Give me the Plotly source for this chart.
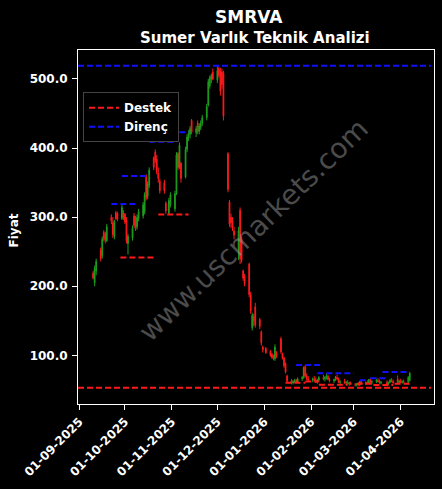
import pandas as pd
import plotly.graph_objects as go

# ---------------- data ----------------
holidays = ["2025-10-29", "2026-01-01", "2026-03-20"]
dates = [d for d in pd.bdate_range("2025-09-10", "2026-04-07") if d.strftime("%Y-%m-%d") not in holidays]

opens = [
    # Sep
    219, 205, 222, 252, 244, 278, 276, 266, 300, 292, 272, 306, 305, 298, 306,
    # Oct
    304, 296, 262, 270, 302, 298, 286, 298, 302, 308, 358, 330, 346, 386, 394, 384, 364, 352, 350, 320, 306, 318,
    # Nov
    312, 334, 392, 372, 378, 358, 398, 416, 420, 440, 422, 436, 424, 430, 436, 444, 462, 490, 500, 510,
    # Dec
    498, 515, 512, 510, 508, 392, 322, 300, 296, 280, 252, 310, 268, 222, 214, 232, 188, 140, 156, 170, 152, 134, 112,
    # Jan
    110, 106, 102, 99, 95, 104, 124, 102, 96, 88, 70, 64, 60, 62, 64, 61, 66, 68, 84, 70, 66,
    # Feb
    64, 66, 64, 62, 64, 68, 66, 68, 70, 65, 63, 65, 68, 66, 61, 62, 60, 61, 59, 60,
    # Mar
    58, 57, 59, 57, 62, 59, 61, 60, 65, 61, 62, 64, 62, 60, 61, 59, 61, 64, 62, 66, 61,
    # Apr
    63, 61, 62, 61, 64,
]
highs = [
    222, 230, 240, 256, 272, 281, 279, 290, 304, 300, 296, 309, 308, 318, 310,
    306, 300, 276, 288, 306, 302, 304, 312, 322, 336, 362, 352, 372, 388, 398, 390, 372, 356, 354, 323, 328, 336,
    338, 394, 394, 408, 380, 402, 420, 426, 432, 442, 432, 440, 436, 440, 448, 464, 500, 505, 508, 515,
    518, 518, 516, 515, 512, 394, 325, 305, 300, 286, 286, 314, 272, 224, 218, 234, 192, 162, 160, 176, 154, 136, 114,
    112, 108, 104, 101, 116, 106, 127, 104, 98, 90, 72, 66, 64, 66, 66, 68, 70, 84, 86, 74, 70,
    68, 70, 68, 66, 70, 72, 70, 74, 72, 68, 66, 70, 72, 68, 64, 66, 63, 64, 62, 62,
    60, 60, 61, 63, 64, 62, 64, 66, 67, 64, 66, 67, 65, 63, 64, 62, 66, 67, 65, 71, 64,
    66, 64, 65, 70, 76,
]
lows = [
    210, 200, 216, 236, 240, 265, 262, 264, 290, 270, 268, 296, 294, 296, 296,
    290, 262, 246, 266, 284, 280, 282, 294, 298, 304, 324, 326, 342, 368, 378, 362, 350, 334, 334, 305, 304, 314,
    308, 332, 368, 370, 350, 356, 394, 410, 414, 420, 416, 420, 420, 426, 432, 440, 460, 486, 494, 498,
    494, 502, 476, 486, 440, 336, 286, 284, 280, 268, 238, 232, 234, 208, 200, 184, 160, 136, 142, 140, 138, 114, 104,
    102, 98, 95, 93, 92, 96, 102, 94, 82, 74, 60, 58, 58, 60, 60, 60, 63, 66, 68, 64, 62,
    61, 63, 60, 59, 62, 64, 62, 65, 64, 61, 60, 63, 64, 60, 58, 59, 57, 58, 56, 57,
    55, 55, 56, 56, 58, 57, 59, 59, 60, 58, 60, 61, 59, 58, 58, 57, 60, 61, 59, 60, 59,
    60, 59, 60, 60, 62,
]
closes = [
    212, 226, 236, 240, 268, 268, 266, 286, 295, 275, 294, 298, 297, 314, 300,
    293, 266, 272, 284, 288, 284, 300, 308, 318, 332, 328, 348, 368, 372, 382, 366, 356, 338, 338, 309, 324, 332,
    334, 390, 372, 404, 356, 398, 416, 422, 428, 423, 428, 424, 432, 436, 444, 460, 496, 502, 505, 500,
    512, 505, 482, 492, 446, 340, 290, 292, 286, 274, 280, 240, 238, 212, 204, 188, 164, 158, 150, 144, 142, 118, 108,
    104, 100, 97, 95, 112, 98, 105, 96, 85, 76, 63, 60, 62, 63, 61, 66, 68, 82, 70, 66, 64,
    66, 64, 62, 64, 68, 66, 68, 70, 65, 63, 65, 68, 66, 61, 62, 60, 61, 59, 60, 58,
    57, 59, 57, 62, 59, 61, 60, 65, 61, 62, 64, 62, 60, 61, 59, 61, 64, 62, 60, 61, 63,
    61, 62, 61, 68, 74,
]

# main support / resistance levels
support_level = 53.2
resistance_level = 519.2
level_span = ["2025-08-31", "2026-04-21"]

# short local support segments: (start, end, value)
support_segments = [
    ("2025-09-28", "2025-10-21", 241.6),
    ("2025-10-23", "2025-11-12", 303.8),
    ("2026-01-15", "2026-01-28", 60.5),
    ("2026-01-28", "2026-02-06", 62.0),
    ("2026-02-06", "2026-02-25", 57.5),
    ("2026-03-03", "2026-03-13", 59.0),
    ("2026-03-14", "2026-03-27", 57.0),
    ("2026-03-28", "2026-04-08", 59.0),
]
# short local resistance segments
resistance_segments = [
    ("2025-09-22", "2025-10-09", 319.0),
    ("2025-09-29", "2025-10-17", 359.5),
    ("2025-10-17", "2025-11-04", 409.0),
    ("2025-10-25", "2025-11-12", 423.0),
    ("2026-01-22", "2026-02-09", 86.0),
    ("2026-02-05", "2026-03-01", 74.0),
    ("2026-03-05", "2026-03-11", 64.0),
    ("2026-03-12", "2026-03-23", 67.0),
    ("2026-03-20", "2026-04-07", 76.0),
]

y_ticks = [100, 200, 300, 400, 500]

# ---------------- figure ----------------
RED = "#ff1a1a"
GREEN = "#1e9e1e"
BLUE = "#1010ff"
FONT = "DejaVu Sans"

fig = go.Figure()

fig.add_trace(go.Candlestick(
    x=dates, open=opens, high=highs, low=lows, close=closes,
    increasing=dict(line=dict(color=GREEN, width=1), fillcolor=GREEN),
    decreasing=dict(line=dict(color=RED, width=1), fillcolor=RED),
    showlegend=False, hoverinfo="skip",
))

dash = "6px,3px"
for s, e, v in support_segments:
    fig.add_trace(go.Scatter(x=[s, e], y=[v, v], mode="lines",
                             line=dict(color=RED, width=2, dash=dash),
                             showlegend=False, hoverinfo="skip"))
for s, e, v in resistance_segments:
    fig.add_trace(go.Scatter(x=[s, e], y=[v, v], mode="lines",
                             line=dict(color=BLUE, width=2, dash=dash),
                             showlegend=False, hoverinfo="skip"))

fig.add_trace(go.Scatter(x=level_span, y=[support_level] * 2, mode="lines",
                         line=dict(color=RED, width=2, dash=dash), name="Destek"))
fig.add_trace(go.Scatter(x=level_span, y=[resistance_level] * 2, mode="lines",
                         line=dict(color=BLUE, width=2, dash=dash), name="Direnç"))

axis_common = dict(
    showline=True, linecolor="white", linewidth=1, mirror=True,
    showgrid=False, zeroline=False, ticks="outside", ticklen=5,
    tickcolor="white", tickfont=dict(family=FONT, size=12, color="white", weight="bold"),
    automargin=False,
)

fig.update_layout(
    width=442, height=489,
    paper_bgcolor="black", plot_bgcolor="black",
    margin=dict(l=78, r=8, t=50, b=85),
    font=dict(family=FONT, color="white"),
    xaxis=dict(
        axis_common, type="date", range=["2025-08-31", "2026-04-23"],
        tick0="2025-09-01", dtick="M1", tickformat="%d-%m-%Y", tickangle=-45,
        rangeslider=dict(visible=False),
    ),
    yaxis=dict(
        axis_common, range=[29.6, 541.9], tickvals=y_ticks,
        ticktext=[f"{v:.1f}" for v in y_ticks], ticklabelstandoff=2,
    ),
    legend=dict(
        x=0.014, y=0.881, xanchor="left", yanchor="top",
        bgcolor="black", bordercolor="#444444", borderwidth=1,
        font=dict(family=FONT, size=12, color="white", weight="bold"),
        itemwidth=30, tracegroupgap=0,
    ),
    annotations=[
        dict(text="SMRVA", x=0.479, y=1.093, xref="paper", yref="paper",
             showarrow=False, xanchor="center", yanchor="middle",
             font=dict(family=FONT, size=17, color="white", weight="bold")),
        dict(text="Sumer Varlık Teknik Analizi", x=0.496, y=1.034, xref="paper", yref="paper",
             showarrow=False, xanchor="center", yanchor="middle",
             font=dict(family=FONT, size=15, color="white", weight="bold")),
        dict(text="Fiyat", x=-0.18, y=0.49, xref="paper", yref="paper", textangle=-90,
             showarrow=False, xanchor="center", yanchor="middle",
             font=dict(family=FONT, size=12, color="white", weight="bold")),
        dict(text="www.uscmarkets.com", x=0.492, y=0.49, xref="paper", yref="paper",
             textangle=-44, showarrow=False, xanchor="center", yanchor="middle",
             font=dict(family=FONT, size=28, color="rgba(150,150,150,0.5)")),
    ],
)

fig.write_html("out.html", config={"displayModeBar": False},
               post_script="document.body.style.margin='0';document.body.style.background='black';")
